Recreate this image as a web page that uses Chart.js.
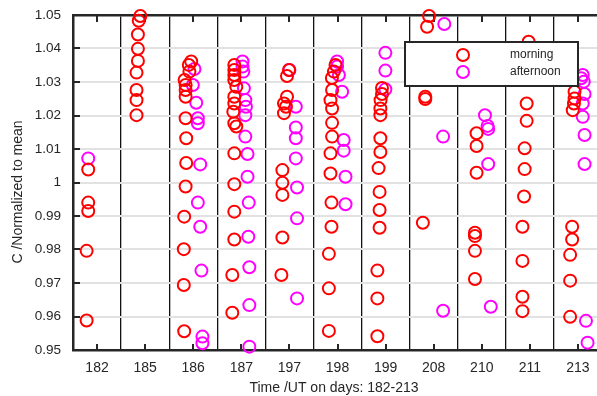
<!DOCTYPE html>
<html>
<head>
<meta charset="utf-8">
<script src="https://cdn.jsdelivr.net/npm/chart.js@4.4.1/dist/chart.umd.min.js"></script>
<style>
  html, body { margin: 0; padding: 0; overflow: hidden; background: #fff; }
  canvas { display: block; }
</style>
</head>
<body>
<canvas id="c" width="610" height="396"></canvas>
<script>
// Day panels (categories along the x axis)
const days = ['182','185','186','187','197','198','199','208','210','211','213'];

// Axis titles
const xTitle = 'Time /UT on days: 182-213';
const yTitle = 'C /Normalized to mean';

// [day, time UT (hours), C normalized to mean]
const morningPoints = [
  ['182',7.6,1.0039],['182',7.6,0.9940],['182',7.6,0.9915],['182',6.8,0.9796],['182',6.8,0.9588],
  ['185',9.6,1.0497],['185',8.8,1.0483],['185',8.4,1.0442],['185',8.4,1.0399],['185',8.4,1.0363],['185',7.7,1.0328],['185',7.7,1.0276],['185',7.7,1.0246],['185',7.7,1.0201],
  ['186',11.0,1.0361],['186',9.8,1.0351],['186',10.1,1.0331],['186',7.7,1.0306],['186',8.2,1.0291],['186',8.2,1.0276],['186',8.2,1.0256],['186',8.2,1.0192],['186',8.5,1.0132],['186',8.5,1.0058],['186',8.2,0.9988],['186',7.5,0.9898],['186',7.3,0.9801],['186',7.3,0.9694],['186',7.5,0.9556],
  ['187',8.5,1.0351],['187',8.5,1.0336],['187',8.5,1.0321],['187',8.5,1.0306],['187',9.5,1.0286],['187',8.5,1.0256],['187',8.5,1.0236],['187',8.0,1.0211],['187',8.5,1.0177],['187',9.5,1.0167],['187',8.5,1.0087],['187',8.5,0.9995],['187',8.5,0.9913],['187',8.5,0.9830],['187',7.5,0.9724],['187',7.5,0.9611],
  ['197',11.8,1.0336],['197',10.8,1.0318],['197',10.8,1.0256],['197',9.3,1.0236],['197',10.3,1.0226],['197',9.3,1.0207],['197',8.5,1.0037],['197',8.5,0.9999],['197',8.5,0.9963],['197',8.5,0.9836],['197',8.0,0.9724],
  ['198',11.0,1.0351],['198',10.2,1.0331],['198',9.2,1.0312],['198',9.3,1.0276],['198',8.5,1.0246],['198',9.3,1.0221],['198',9.3,1.0178],['198',9.3,1.0137],['198',8.5,1.0087],['198',8.5,1.0027],['198',9.0,0.9940],['198',9.0,0.9868],['198',7.7,0.9787],['198',7.7,0.9684],['198',7.7,0.9557],
  ['199',10.2,1.0282],['199',10.2,1.0264],['199',9.5,1.0246],['199',9.4,1.0221],['199',9.4,1.0201],['199',9.4,1.0132],['199',9.4,1.0091],['199',8.5,1.0043],['199',9.0,0.9972],['199',9.0,0.9918],['199',9.0,0.9865],['199',7.9,0.9737],['199',7.9,0.9654],['199',7.9,0.9541],
  ['208',9.7,1.0497],['208',8.7,1.0465],['208',7.8,1.0256],['208',7.8,1.0249],['208',6.6,0.9880],
  ['210',9.4,1.0147],['210',9.4,1.0109],['210',9.4,1.0029],['210',8.6,0.9850],['210',8.6,0.9840],['210',8.6,0.9796],['210',8.6,0.9712],
  ['211',11.4,1.0420],['211',10.4,1.0236],['211',10.4,1.0184],['211',9.4,1.0102],['211',9.4,1.0040],['211',9.1,0.9958],['211',8.3,0.9868],['211',8.3,0.9766],['211',8.3,0.9659],['211',8.3,0.9616],
  ['213',10.3,1.0271],['213',10.3,1.0251],['213',10.0,1.0236],['213',9.4,1.0216],['213',9.1,0.9868],['213',9.1,0.9830],['213',8.1,0.9784],['213',8.1,0.9707],['213',8.1,0.9599]
];

const afternoonPoints = [
  ['182',7.6,1.0072],
  ['186',12.6,1.0339],['186',11.8,1.0291],['186',13.5,1.0238],['186',14.3,1.0192],['186',14.3,1.0177],['186',15.5,1.0054],['186',14.3,0.9940],['186',15.5,0.9868],['186',16.1,0.9737],['186',16.6,0.9540],['186',16.6,0.9520],
  ['187',12.6,1.0361],['187',12.6,1.0346],['187',13.0,1.0331],['187',13.3,1.0281],['187',14.0,1.0246],['187',14.3,1.0226],['187',14.0,1.0201],['187',14.0,1.0137],['187',15.1,1.0085],['187',15.1,1.0017],['187',15.7,0.9940],['187',15.5,0.9838],['187',16.0,0.9747],['187',16.0,0.9634],['187',16.0,0.9510],
  ['197',12.0,1.0336],['197',15.2,1.0226],['197',15.2,1.0164],['197',15.2,1.0132],['197',15.2,1.0072],['197',15.8,0.9985],['197',15.8,0.9893],['197',15.8,0.9654],
  ['198',11.8,1.0361],['198',11.8,1.0346],['198',12.7,1.0321],['198',14.3,1.0271],['198',15.1,1.0127],['198',15.1,1.0095],['198',16.0,1.0017],['198',16.0,0.9935],
  ['199',11.9,1.0387],['199',11.9,1.0334],['199',11.9,1.0278],
  ['208',17.3,1.0473],['208',16.7,1.0137],['208',16.7,0.9617],
  ['210',13.6,1.0201],['210',14.9,1.0169],['210',15.2,1.0160],['210',15.2,1.0055],['210',16.5,0.9629],
  ['213',14.4,1.0321],['213',13.6,1.0311],['213',14.9,1.0301],['213',15.3,1.0264],['213',14.4,1.0236],['213',14.4,1.0196],['213',15.3,1.0142],['213',15.3,1.0055],['213',16.0,0.9587],['213',16.8,0.9522]
];

const yMin = 0.95, yMax = 1.05, yStep = 0.01;

function toXY(list) {
  return list.map(([d, h, c]) => ({ x: days.indexOf(d) + h / 24, y: c }));
}

const FONT = "'Liberation Sans', Arial, Helvetica, sans-serif";
const TXT = '#262626';

const framePlugin = {
  id: 'frame',
  beforeDatasetsDraw(chart) {
    const { ctx, chartArea: a, scales } = chart;
    const x = scales.x, y = scales.y;
    ctx.save();
    ctx.strokeStyle = '#262626';
    ctx.lineWidth = 2;
    ctx.beginPath();
    y.ticks.forEach(t => {
      const py = Math.round(y.getPixelForValue(t.value));
      ctx.moveTo(a.left, py); ctx.lineTo(a.left + 7, py);
    });
    x.ticks.forEach(t => {
      const px = Math.round(x.getPixelForValue(t.value));
      ctx.moveTo(px, a.bottom); ctx.lineTo(px, a.bottom - 6);
      ctx.moveTo(px, a.top); ctx.lineTo(px, a.top + 7);
    });
    ctx.stroke();
    ctx.restore();
  },
  afterDatasetsDraw(chart) {
    const { ctx, chartArea: a } = chart;
    const bx = a.right - 197, by = a.top + 27, bw = 173, bh = 44;
    ctx.save();
    ctx.fillStyle = '#fff';
    ctx.fillRect(bx, by, bw, bh);
    ctx.strokeStyle = '#262626';
    ctx.lineWidth = 2;
    ctx.strokeRect(bx, by, bw, bh);
    ctx.font = '12px ' + FONT;
    ctx.textBaseline = 'middle';
    ctx.textAlign = 'left';
    chart.data.datasets.forEach((ds, i) => {
      const cy = by + 13 + i * 17;
      ctx.beginPath();
      ctx.arc(bx + 58, cy, 6, 0, Math.PI * 2);
      ctx.strokeStyle = ds.borderColor;
      ctx.lineWidth = 2;
      ctx.stroke();
      ctx.fillStyle = TXT;
      ctx.fillText(ds.label, bx + 105, cy);
    });
    // axis titles
    ctx.fillStyle = TXT;
    ctx.font = '14px ' + FONT;
    ctx.textAlign = 'center';
    ctx.textBaseline = 'middle';
    ctx.fillText(xTitle, a.left + 261, 388);
    ctx.translate(18, a.top + 177);
    ctx.rotate(-Math.PI / 2);
    ctx.fillText(yTitle, 0, 0);
    ctx.restore();
  }
};

new Chart(document.getElementById('c'), {
  type: 'scatter',
  data: {
    datasets: [
      { label: 'morning', data: toXY(morningPoints), borderColor: '#ff0000', backgroundColor: 'rgba(0,0,0,0)',
        pointRadius: 6, pointBorderWidth: 2, pointHoverRadius: 6, clip: false },
      { label: 'afternoon', data: toXY(afternoonPoints), borderColor: '#ff00ff', backgroundColor: 'rgba(0,0,0,0)',
        pointRadius: 6, pointBorderWidth: 2, pointHoverRadius: 6, clip: false }
    ]
  },
  options: {
    responsive: false,
    animation: false,
    events: [],
    layout: { padding: { top: 15, right: 6, left: 0, bottom: 0 } },
    plugins: { legend: { display: false }, tooltip: { enabled: false } },
    scales: {
      x: {
        type: 'linear', position: 'bottom', min: 0, max: days.length,
        afterBuildTicks: s => { s.ticks = days.map((d, i) => ({ value: i + 0.5 })); },
        afterFit: s => { s.height = 46; s.paddingLeft = 0; s.paddingRight = 0; },
        ticks: {
          autoSkip: false, maxRotation: 0, padding: 10,
          font: { size: 14, family: FONT }, color: TXT,
          callback: v => days[Math.round(v - 0.5)]
        },
        grid: { display: false, drawTicks: false },
        border: { display: true, color: '#262626', width: 2.5 }
      },
      xTop: {
        type: 'linear', position: 'top', min: 0, max: days.length,
        afterBuildTicks: s => { s.ticks = days.slice(1).map((d, i) => ({ value: i + 1 })); },
        afterFit: s => { s.height = 0; s.paddingLeft = 0; s.paddingRight = 0; },
        ticks: { display: false },
        grid: { display: true, drawTicks: false, color: '#111', lineWidth: 1.3 },
        border: { display: true, color: '#262626', width: 2.5 }
      },
      y: {
        type: 'linear', min: yMin, max: yMax,
        afterFit: s => { s.width = 73; s.paddingTop = 0; s.paddingBottom = 0; },
        ticks: {
          stepSize: yStep, padding: 12,
          font: { size: 13.5, family: FONT }, color: TXT,
          callback: v => String(Math.round(v * 100) / 100)
        },
        grid: { color: '#e2e2e2', lineWidth: 2, drawTicks: false },
        border: { display: true, color: '#262626', width: 2.5 }
      }
    }
  },
  plugins: [framePlugin]
});
</script>
</body>
</html>
